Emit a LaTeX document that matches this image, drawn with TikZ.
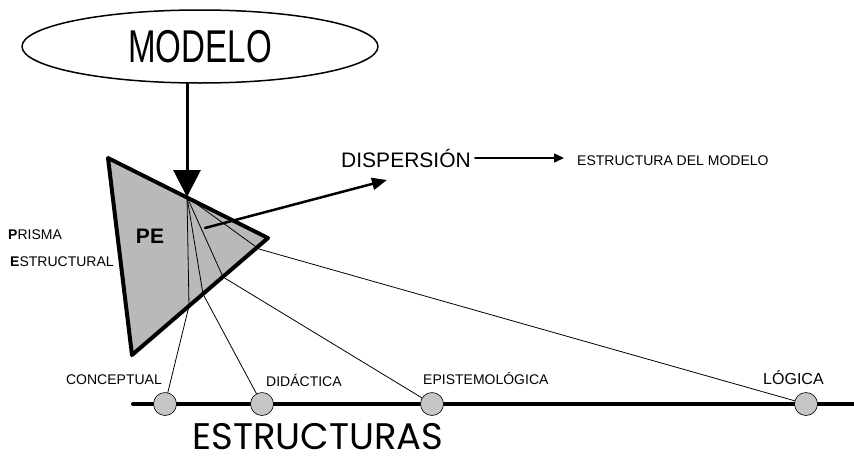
\documentclass[tikz,border=0pt]{standalone}
\usepackage{fontspec}
\setmainfont{Liberation Sans}
\newfontfamily\estfont{Poppins}
\usetikzlibrary{shapes.geometric,arrows.meta}
\tikzset{
	lbl/.style={inner sep=0pt,font=\fontsize{14}{14}\selectfont},
	ball/.style={circle,draw,line width=0.6pt,fill=gray!45,minimum size=23pt,inner sep=0pt},
	ray/.style={line width=0.8pt},
}
\begin{document}
\begin{tikzpicture}[x=1pt,y=-1pt,line join=round,line cap=round,>={Triangle[length=27pt,width=27pt]}]
	\useasboundingbox (0,0) rectangle (854,461);
	\path (108,158) coordinate (A)
	(268,238) coordinate (B)
	(132,355) coordinate (C)
	(187,197) coordinate (S)
	(205,228) coordinate (D)
	(387,180) coordinate (T)
	(189,306) coordinate (e1)
	(203,294) coordinate (e2)
	(223,277) coordinate (e3)
	(259,249) coordinate (e4)
	(133,404) coordinate (L)
	(854,404) coordinate (R);
	\node[draw,ellipse,line width=1.5pt,minimum width=356pt,minimum height=73pt,inner sep=0pt] (modelo) at (200,46.5)
	{\fontsize{46}{46}\selectfont\scalebox{0.72}[1]{MODELO}};
	\draw[line width=4pt,fill=gray!55] (A)--(B)--(C)--cycle;
	\draw[line width=4pt] (L)--(R);
	\node[ball] (conc) at (165,404) {};
	\node[ball] (dida) at (262,404) {};
	\node[ball] (epis) at (432,404) {};
	\node[ball] (logi) at (806,404) {};
	\foreach \i/\n in {1/conc,2/dida,3/epis,4/logi}
	\draw[ray] (S)--(e\i)--(\n);
	\draw[line width=3pt,->] (S |- modelo.south)--(S);
	\draw[line width=2.5pt,->,>={Triangle[length=15pt,width=12pt]}] (D)--(T);
	\node[inner sep=0pt,font=\fontsize{21}{21}\selectfont] (disp) at (406,158) {DISPERSIÓN};
	\node[lbl,anchor=west] (emod) at (577,161) {ESTRUCTURA DEL MODELO};
	\draw[line width=1.5pt,->,>={Triangle[length=10pt,width=9pt]},shorten <=4pt,shorten >=13pt]
	(disp.east)--(disp.east -| emod.west);
	\node[inner sep=0pt,font=\bfseries\fontsize{21}{21}\selectfont] (pe) at (150,236) {PE};
	\node[lbl,anchor=west] (prisma) at (8,235) {\textbf{P}RISMA};
	\node[lbl,anchor=west] (estructural) at (10,262) {\textbf{E}STRUCTURAL};
	\node[lbl,anchor=east] (lconc) at (162,380) {CONCEPTUAL};
	\node[lbl,anchor=west] (ldida) at (266,380) {DIDÁCTICA};
	\node[lbl,anchor=west] (lepis) at (423,378) {EPISTEMOLÓGICA};
	\node[lbl,anchor=west,font=\fontsize{16}{16}\selectfont] (llogi) at (763,378) {LÓGICA};
	\node[inner sep=0pt,text height=26pt,text depth=0pt,anchor=base,font=\estfont\fontsize{37}{37}\selectfont] (estructuras) at (318,449) {ESTRUCTURAS};
\end{tikzpicture}
\end{document}
